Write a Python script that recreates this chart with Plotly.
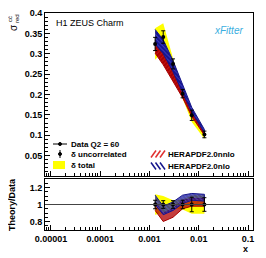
import plotly.graph_objects as go

# ---- data ----
x_vals = [0.0013, 0.0019, 0.0030, 0.0047, 0.0072, 0.0130]
sigma = [0.324, 0.341, 0.275, 0.202, 0.149, 0.102]
unc_rel = [0.05, 0.045, 0.045, 0.05, 0.085, 0.08]
tot_rel = [0.12, 0.10, 0.05, 0.06, 0.11, 0.11]
nlo_lo = [1.00, 0.88, 0.93, 1.01, 1.05, 1.04]
nlo_hi = [1.11, 0.98, 1.03, 1.11, 1.13, 1.12]
nnlo_lo = [0.93, 0.80, 0.85, 0.95, 0.98, 0.98]
nnlo_hi = [1.03, 0.90, 0.95, 1.05, 1.07, 1.07]
x_tickvals = [1e-5, 1e-4, 1e-3, 1e-2, 1e-1]
x_ticktext = ["0.00001", "0.0001", "0.001", "0.01", "0.1"]
y_tickvals = [0.05, 0.1, 0.15, 0.2, 0.25, 0.3, 0.35, 0.4]
y_ticktext = ["0.05", "0.1", "0.15", "0.2", "0.25", "0.3", "0.35", "0.4"]
r_tickvals = [0.8, 1.0, 1.2]
r_ticktext = ["0.8", "1", "1.2"]
legend_left = ["Data Q2 = 60", "δ uncorrelated", "δ total"]
legend_right = ["HERAPDF2.0nnlo", "HERAPDF2.0nlo"]

FONT = "Liberation Sans"
YELLOW = "#ffff00"
RED = "#a80000"
RED_HATCH = "#e03030"
BLUE = "#14148c"
BLUE_HATCH = "#6a6aff"

OFF = 8  # default page body margin
W, H = 266 - OFF, 258 - OFF
ML, MR, MT, MB = 45 - OFF, 13, 13 - OFF, 28
PW, PH = W - ML - MR, H - MT - MB


def px(xp):
    # page pixel -> paper fraction
    return (xp - OFF - ML) / PW


def py(yp):
    return (H - MB - (yp - OFF)) / PH


def band(xs, lo, hi):
    return list(xs) + list(xs)[::-1], list(hi) + list(lo)[::-1]


def scaled(vals, rel):
    return [v * r for v, r in zip(vals, rel)]


tot_lo = [1 - t for t in tot_rel]
tot_hi = [1 + t for t in tot_rel]

fig = go.Figure()


def add_panel(xa, ya, yvals, unc, alpha):
    bx, by = band(x_vals, scaled(yvals, tot_lo), scaled(yvals, tot_hi))
    fig.add_trace(go.Scatter(x=bx, y=by, fill="toself", fillcolor=YELLOW,
                             line=dict(width=0), mode="lines", showlegend=False,
                             name=legend_left[2], xaxis=xa, yaxis=ya))
    bx, by = band(x_vals, scaled(yvals, nnlo_lo), scaled(yvals, nnlo_hi))
    fig.add_trace(go.Scatter(x=bx, y=by, fill="toself",
                             fillpattern=dict(shape="/", fgcolor=RED_HATCH,
                                              bgcolor=f"rgba(168,0,0,{alpha})",
                                              size=3, solidity=0.3),
                             line=dict(width=1, color=RED), mode="lines", showlegend=False,
                             name=legend_right[0], xaxis=xa, yaxis=ya))
    bx, by = band(x_vals, scaled(yvals, nlo_lo), scaled(yvals, nlo_hi))
    fig.add_trace(go.Scatter(x=bx, y=by, fill="toself",
                             fillpattern=dict(shape="\\", fgcolor=BLUE_HATCH,
                                              bgcolor=f"rgba(20,20,140,{alpha})",
                                              size=3, solidity=0.3),
                             line=dict(width=1, color=BLUE), mode="lines", showlegend=False,
                             name=legend_right[1], xaxis=xa, yaxis=ya))
    fig.add_trace(go.Scatter(x=x_vals, y=yvals, mode="markers",
                             marker=dict(color="black", size=4),
                             error_y=dict(type="data", array=unc, color="black",
                                          thickness=1, width=2),
                             showlegend=False, name=legend_left[1], xaxis=xa, yaxis=ya))


add_panel("x", "y", sigma, scaled(sigma, unc_rel), 1.0)
add_panel("x2", "y2", [1.0] * len(x_vals), unc_rel, 0.75)

minor_x = [m * 10.0 ** e for e in range(-6, 0) for m in range(2, 10)]
tickfont = dict(family=FONT, size=9, color="black", weight="bold")
common_x = dict(type="log", range=[-5.12, -0.9], tickvals=x_tickvals, ticktext=x_ticktext,
                ticks="inside", ticklen=5, tickcolor="black", showline=True, linecolor="black",
                mirror=True, showgrid=False, zeroline=False, tickfont=tickfont,
                automargin=False,
                minor=dict(tickvals=minor_x, ticks="inside", ticklen=3, tickcolor="black",
                           showgrid=False))
common_y = dict(ticks="inside", ticklen=5, tickcolor="black", showline=True, linecolor="black",
                mirror=True, showgrid=False, zeroline=False, tickfont=tickfont,
                automargin=False)

shapes = [dict(type="line", xref="x2 domain", yref="y2", x0=0, x1=1, y0=1, y1=1,
               line=dict(color="#444444", width=1))]
# legend symbols (paper coordinates)
shapes.append(dict(type="line", xref="paper", yref="paper", x0=px(53), x1=px(67),
                   y0=py(144), y1=py(144), line=dict(color="black", width=1)))
shapes.append(dict(type="circle", xref="paper", yref="paper", x0=px(58.5), x1=px(61.5),
                   y0=py(145.5), y1=py(142.5), fillcolor="black", line=dict(color="black", width=1)))
shapes.append(dict(type="line", xref="paper", yref="paper", x0=px(60), x1=px(60),
                   y0=py(150), y1=py(158), line=dict(color="black", width=1)))
shapes.append(dict(type="circle", xref="paper", yref="paper", x0=px(58.5), x1=px(61.5),
                   y0=py(155.5), y1=py(152.5), fillcolor="black", line=dict(color="black", width=1)))
shapes.append(dict(type="rect", xref="paper", yref="paper", x0=px(53), x1=px(65),
                   y0=py(169), y1=py(161), fillcolor=YELLOW, line=dict(width=0)))
for row, (col, direction) in enumerate([(RED_HATCH, 1), (BLUE, -1)]):
    yc = 154 + 12 * row
    for k in range(3):
        x0 = 151 + 4.5 * k
        ya, yb = (yc + 3.5, yc - 3.5) if direction == 1 else (yc - 3.5, yc + 3.5)
        shapes.append(dict(type="line", xref="paper", yref="paper", x0=px(x0), x1=px(x0 + 5),
                           y0=py(ya), y1=py(yb), line=dict(color=col, width=1.5)))

annotations = [
    dict(text="H1 ZEUS Charm", xref="paper", yref="paper", x=px(54), y=py(23),
         xanchor="left", yanchor="middle", showarrow=False,
         font=dict(family=FONT, size=9, color="black")),
    dict(text="<i>xFitter</i>", xref="paper", yref="paper", x=px(228), y=py(30),
         xanchor="center", yanchor="middle", showarrow=False,
         font=dict(family=FONT, size=10, color="#3aaee0")),
    dict(text="σ", xref="paper", yref="paper", x=px(13), y=py(28), textangle=-90,
         xanchor="center", yanchor="middle", showarrow=False,
         font=dict(family=FONT, size=10, color="black")),
    dict(text="cc̄", xref="paper", yref="paper", x=px(10), y=py(19), textangle=-90,
         xanchor="center", yanchor="middle", showarrow=False,
         font=dict(family=FONT, size=6, color="black")),
    dict(text="red", xref="paper", yref="paper", x=px(17), y=py(19), textangle=-90,
         xanchor="center", yanchor="middle", showarrow=False,
         font=dict(family=FONT, size=6, color="black")),
    dict(text="Theory/Data", xref="paper", yref="paper", x=px(12), y=py(205), textangle=-90,
         xanchor="center", yanchor="middle", showarrow=False,
         font=dict(family=FONT, size=9, color="black", weight="bold")),
    dict(text="x", xref="paper", yref="paper", x=px(245), y=py(249),
         xanchor="center", yanchor="middle", showarrow=False,
         font=dict(family=FONT, size=9, color="black", weight="bold")),
]
for i, t in enumerate(legend_left):
    annotations.append(dict(text=t, xref="paper", yref="paper", x=px(69), y=py(144 + 10.5 * i),
                            xanchor="left", yanchor="middle", showarrow=False,
                            font=dict(family=FONT, size=8, color="black", weight="bold")))
for i, t in enumerate(legend_right):
    annotations.append(dict(text=t, xref="paper", yref="paper", x=px(166), y=py(154 + 12 * i),
                            xanchor="left", yanchor="middle", showarrow=False,
                            font=dict(family=FONT, size=8, color="black", weight="bold")))

fig.update_layout(
    width=W, height=H,
    margin=dict(l=ML, r=MR, t=MT, b=MB, autoexpand=False),
    paper_bgcolor="white", plot_bgcolor="white",
    font=dict(family=FONT, color="black"),
    showlegend=False,
    xaxis=dict(**common_x, showticklabels=False, anchor="y"),
    xaxis2=dict(**common_x, showticklabels=True, anchor="y2"),
    yaxis=dict(**common_y, domain=[py(176), 1.0], range=[0, 0.4], tickvals=y_tickvals,
               ticktext=y_ticktext, anchor="x",
               minor=dict(dtick=0.01, ticks="inside", ticklen=3, tickcolor="black",
                          showgrid=False)),
    yaxis2=dict(**common_y, domain=[0.0, py(179)], range=[0.7, 1.3], tickvals=r_tickvals,
                ticktext=r_ticktext, anchor="x2",
                minor=dict(dtick=0.05, ticks="inside", ticklen=3, tickcolor="black",
                           showgrid=False)),
    shapes=shapes,
    annotations=annotations,
)

fig.write_html("out.html")
